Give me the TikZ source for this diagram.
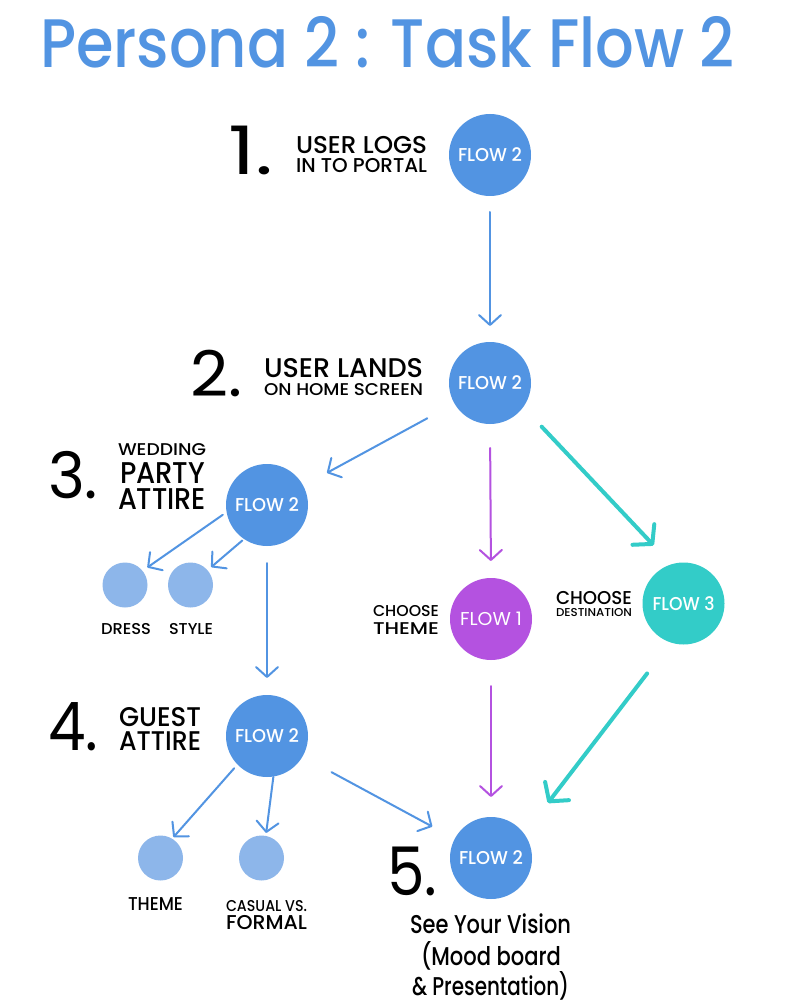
\documentclass[tikz,border=0pt]{standalone}
\usepackage{fontspec}
\IfFontExistsTF{Poppins Medium}{\setmainfont{Poppins Medium}}{\setmainfont{Poppins}}
\newfontfamily\numfont{Poppins}
\usetikzlibrary{arrows.meta}
\definecolor{fblue}{HTML}{5294E2}
\definecolor{lblue}{HTML}{8DB6EA}
\definecolor{fpurple}{HTML}{B452E0}
\definecolor{fteal}{HTML}{33CCC8}
\newcommand\fsz[1]{\fontsize{#1pt}{#1pt}\selectfont}
\newcommand\lab[3]{\resizebox{#1}{\height}{\fsz{#2}#3}}
\begin{document}
\begin{tikzpicture}[x=1pt,y=-1pt,
  bigc/.style={circle, minimum size=82pt, inner sep=0pt, outer sep=0pt, text=white},
  smallc/.style={circle, minimum size=45pt, inner sep=0pt, outer sep=0pt, fill=lblue},
  lbl/.style={anchor=base west, inner sep=0pt, outer sep=0pt, text=black},
  arr/.style={line width=2pt, line cap=round, -{Straight Barb[length=10pt,width=22pt,round]}},
  barr/.style={arr, draw=fblue},
  parr/.style={arr, draw=fpurple},
  tarr/.style={line width=4pt, line cap=round, draw=fteal, -{Straight Barb[length=13pt,width=30pt,round]}}]
\useasboundingbox (0,0) rectangle (800,1008);
\fill[white] (0,0) rectangle (800,1008);

% title
\node[lbl, text=fblue] (title) at (40,68) {\lab{695pt}{68.6}{Persona 2 : Task Flow 2}};

% circles
\node[bigc, fill=fblue] (c1) at (490,155) {\lab{64pt}{18.6}{FLOW 2}};
\node[bigc, fill=fblue] (c2) at (490,383) {\lab{64pt}{18.6}{FLOW 2}};
\node[bigc, fill=fblue] (c3) at (267,505) {\lab{64pt}{18.6}{FLOW 2}};
\node[bigc, fill=fblue] (c4) at (267,736) {\lab{64pt}{18.6}{FLOW 2}};
\node[bigc, fill=fblue] (c5) at (491,858) {\lab{64pt}{18.6}{FLOW 2}};
\node[bigc, fill=fpurple] (cp) at (491,619) {\numfont\lab{62pt}{18.6}{FLOW 1}};
\node[bigc, fill=fteal] (ct) at (683.5,603.5) {\lab{62pt}{18.6}{FLOW 3}};
\node[smallc] (dress) at (125,585) {};
\node[smallc] (style) at (190.5,585) {};
\node[smallc] (themec) at (160.5,858) {};
\node[smallc] (casual) at (261.5,858) {};

% numbers
\node[lbl] (n1) at (228,175) {\numfont\lab{45pt}{67}{1.}};
\node[lbl] (n2) at (190,396) {\numfont\lab{52pt}{63}{2.}};
\node[lbl] (n3) at (48,498) {\numfont\lab{50pt}{64}{3.}};
\node[lbl] (n4) at (48,750) {\numfont\lab{50pt}{67}{4.}};
\node[lbl] (n5) at (387,895) {\numfont\lab{50pt}{67}{5.}};

% labels
\node[lbl] (l1a) at (296,154) {\lab{131pt}{24.3}{USER LOGS}};
\node[lbl] (l1b) at (296,173) {\lab{131pt}{20}{IN TO PORTAL}};
\node[lbl] (l2a) at (264,377) {\lab{159pt}{27}{USER LANDS}};
\node[lbl] (l2b) at (264,395) {\lab{159pt}{17}{ON HOME SCREEN}};
\node[lbl] (l3a) at (118,455) {\lab{88pt}{17}{WEDDING}};
\node[lbl] (l3b) at (120,483) {\lab{85pt}{30}{PARTY}};
\node[lbl] (l3c) at (118,509) {\lab{88pt}{30}{ATTIRE}};
\node[lbl] (l4a) at (119,726) {\lab{82pt}{27}{GUEST}};
\node[lbl] (l4b) at (119,750) {\lab{82pt}{27}{ATTIRE}};
\node[lbl] (lta) at (373,616) {\lab{66pt}{15.7}{CHOOSE}};
\node[lbl] (ltb) at (373,634) {\lab{66pt}{17}{THEME}};
\node[lbl] (lda) at (556,604) {\lab{76pt}{18.6}{CHOOSE}};
\node[lbl] (ldb) at (556,616) {\lab{76pt}{11.4}{DESTINATION}};
\node[lbl] (ldr) at (101,634) {\lab{50pt}{15.7}{DRESS}};
\node[lbl] (lst) at (169,634) {\lab{44pt}{15.7}{STYLE}};
\node[lbl] (lth) at (128,910) {\lab{55pt}{18.6}{THEME}};
\node[lbl] (lca) at (226,911) {\lab{81pt}{15.7}{CASUAL VS.}};
\node[lbl] (lcb) at (226,929) {\lab{81pt}{20}{FORMAL}};
\node[lbl] (v1) at (410,933) {\lab{161pt}{25.7}{See Your Vision}};
\node[lbl] (v2) at (421,965) {\lab{140pt}{25.7}{(Mood board}};
\node[lbl] (v3) at (412,995) {\lab{157pt}{25.7}{\& Presentation)}};

% connectors
\draw[barr, shorten <=16pt, shorten >=16pt] (c1) -- (c2);
\draw[barr, shorten <=31pt, shorten >=27pt] (c2.210.8) -- (c3.28.8);
\draw[parr, shorten <=24pt, shorten >=17pt] (c2.-90) -- (cp.90);
\draw[tarr, shorten <=27pt, shorten >=26pt] (c2.-36) -- (ct.107.6);
\draw[barr, shorten <=4.7pt, shorten >=5.9pt] (c3.190) -- (dress.39.3);
\draw[barr, shorten <=2.3pt, shorten >=4.8pt] (c3.236.3) -- (style.41.3);
\draw[barr, shorten <=17pt, shorten >=17pt] (c3) -- (c4);
\draw[barr, shorten <=5pt, shorten >=2pt] (c4.224.1) -- (themec.59.2);
\draw[barr, shorten <=0.5pt, shorten >=3pt] (c4.-81.7) -- (casual.79.8);
\draw[barr, shorten <=33pt, shorten >=25.6pt] (c4.-30.7) -- (c5.152.3);
\draw[parr, shorten <=26pt, shorten >=20pt] (cp.-90) -- (c5.90);
\draw[tarr, shorten <=39pt, shorten >=39pt] (ct.252.9) -- (c5.36.9);
\end{tikzpicture}
\end{document}
